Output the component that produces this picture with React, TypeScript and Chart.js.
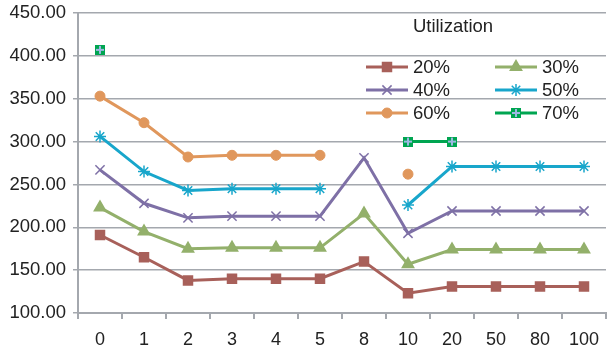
import React, { useEffect, useRef } from "react";
import { Chart, registerables } from "chart.js";
import { drawPoint } from "chart.js/helpers";

Chart.register(...registerables);

const categories = ["0", "1", "2", "3", "4", "5", "8", "10", "20", "50", "80", "100"];
const util20 = [191, 165, 138, 140, 140, 140, 160, 123, 131, 131, 131, 131];
const util30 = [223, 195, 175, 176, 176, 176, 216, 157, 174, 174, 174, 174];
const util40 = [267, 228, 211, 213, 213, 213, 281, 193, 219, 219, 219, 219];
const util50 = [306, 265, 243, 245, 245, 245, null, 226, 271, 271, 271, 271];
const util60 = [353, 322, 282, 284, 284, 284, null, 262, null, null, null, null];
const util70 = [407, null, null, null, null, null, null, 300, 300, null, null, null];
const seriesLabels = ["20%", "30%", "40%", "50%", "60%", "70%"];
const legendTitle = "Utilization";

const FONT = "'Liberation Sans', Arial, sans-serif";
const GRID = "#A4A8AE";

function makePlusSquare(): HTMLCanvasElement {
  const c = document.createElement("canvas");
  c.width = 10;
  c.height = 10;
  const g = c.getContext("2d")!;
  g.fillStyle = "#00A551";
  g.fillRect(0, 0, 10, 10);
  g.fillStyle = "#9DB8E2";
  g.fillRect(4, 1, 2, 8);
  g.fillRect(1, 4, 8, 2);
  return c;
}

export default function App() {
  const ref = useRef<HTMLCanvasElement>(null);

  useEffect(() => {
    const plusSquare = makePlusSquare();
    const styles: any[] = [
      { color: "#A8605A", point: "rect", radius: 6, bw: 2 },
      { color: "#93B06B", point: "triangle", radius: 6, bw: 2 },
      { color: "#7E70A6", point: "crossRot", radius: 6.5, bw: 1.5 },
      { color: "#18A6CB", point: "star", radius: 6, bw: 1.5 },
      { color: "#E0975C", point: "circle", radius: 5, bw: 1 },
      { color: "#00A551", point: plusSquare, radius: 5, bw: 1 },
    ];
    const values = [util20, util30, util40, util50, util60, util70];

    const legendPlugin = {
      id: "utilLegend",
      afterDatasetsDraw(chart: any) {
        const ctx = chart.ctx;
        const area = chart.chartArea;
        ctx.save();
        ctx.fillStyle = "#222";
        ctx.font = `18.5px ${FONT}`;
        ctx.textBaseline = "middle";
        ctx.textAlign = "center";
        ctx.fillText(legendTitle, area.left + 375, area.top + 14);
        ctx.textAlign = "left";
        const rows = [54, 77, 100];
        const cols = [288, 417];
        chart.data.datasets.forEach((ds: any, i: number) => {
          const x0 = area.left + cols[i % 2];
          const y = area.top + rows[Math.floor(i / 2)];
          ctx.strokeStyle = ds.borderColor;
          ctx.lineWidth = 3;
          ctx.beginPath();
          ctx.moveTo(x0, y);
          ctx.lineTo(x0 + 42, y);
          ctx.stroke();
          ctx.fillStyle = ds.pointBackgroundColor;
          ctx.strokeStyle = ds.pointBorderColor;
          ctx.lineWidth = ds.pointBorderWidth;
          drawPoint(
            ctx,
            { pointStyle: ds.pointStyle, radius: ds.pointRadius, rotation: 0, borderWidth: ds.pointBorderWidth },
            x0 + 21,
            y
          );
          ctx.fillStyle = "#222";
          ctx.fillText(ds.label, x0 + 47, y + 1);
        });
        ctx.restore();
      },
    };

    const chart = new Chart(ref.current!, {
      type: "line",
      data: {
        labels: categories,
        datasets: values.map((v, i) => ({
          label: seriesLabels[i],
          data: v,
          borderColor: styles[i].color,
          backgroundColor: styles[i].color,
          pointBackgroundColor: styles[i].color,
          pointBorderColor: styles[i].color,
          pointStyle: styles[i].point,
          pointRadius: styles[i].radius,
          pointBorderWidth: styles[i].bw,
          borderWidth: 3,
          tension: 0,
          spanGaps: false,
        })),
      },
      options: {
        animation: false,
        responsive: false,
        layout: { padding: { top: 13, right: 0, left: 0, bottom: 0 } },
        plugins: {
          legend: { display: false },
          tooltip: { enabled: false },
        },
        scales: {
          x: {
            offset: true,
            grid: {
              display: true,
              drawOnChartArea: false,
              drawTicks: true,
              tickLength: 6,
              offset: true,
              color: GRID,
              lineWidth: 2,
            },
            border: { display: true, color: GRID, width: 2 },
            ticks: {
              color: "#222",
              font: { family: FONT, size: 18 },
              padding: 10,
              maxRotation: 0,
              autoSkip: false,
            },
            afterFit(scale: any) {
              scale.height = 43;
              scale.paddingLeft = 0;
              scale.paddingRight = 0;
            },
          },
          y: {
            min: 100,
            max: 450,
            grid: {
              color: GRID,
              lineWidth: 1.5,
              tickLength: 5,
            },
            border: { display: true, color: GRID, width: 2 },
            ticks: {
              stepSize: 50,
              color: "#222",
              font: { family: FONT, size: 18.5 },
              padding: 7,
              callback: (v: any) => Number(v).toFixed(2),
            },
            afterFit(scale: any) {
              scale.width = 78;
              scale.paddingTop = 0;
              scale.paddingBottom = 0;
            },
          },
        },
      },
      plugins: [legendPlugin],
    });
    return () => chart.destroy();
  }, []);

  return (
    <div style={{ position: "fixed", left: 0, top: 0, width: 614, height: 356, background: "#fff" }}>
      <canvas ref={ref} width={614} height={356} />
    </div>
  );
}
